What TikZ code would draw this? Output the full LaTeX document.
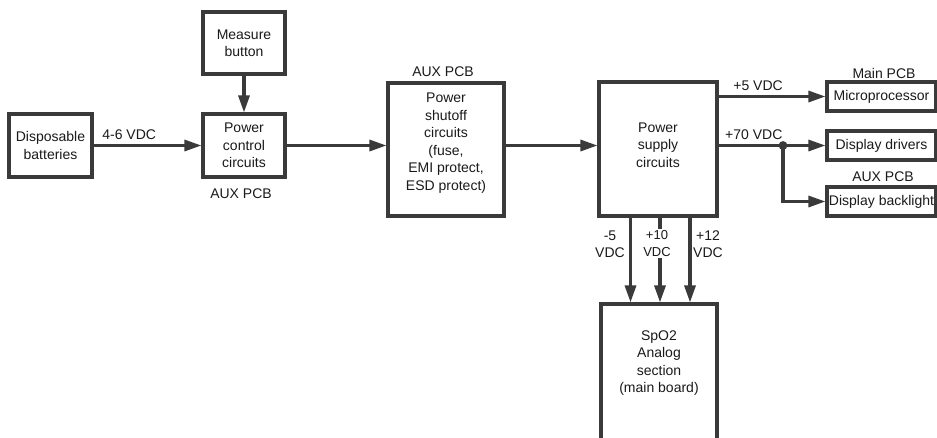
\documentclass[tikz,border=0pt]{standalone}
\usepackage{fontspec}
\setmainfont{Liberation Sans}
\usetikzlibrary{arrows.meta}
\definecolor{linec}{HTML}{3A3A3A}
\definecolor{txtc}{HTML}{1A1A1A}
\tikzset{
  box/.style={draw=linec, line width=3.1pt, fill=white, align=center, inner sep=0pt, text=txtc,
    font=\fontsize{14}{17.5}\selectfont},
  lbl/.style={text=txtc, align=center, inner sep=0pt, font=\fontsize{14}{17.5}\selectfont},
  slbl/.style={text=txtc, align=center, inner sep=0pt, font=\fontsize{13}{16.5}\selectfont},
  conn/.style={draw=linec, line width=3.1pt, -{Triangle[length=17pt,width=11pt]}},
  wire/.style={draw=linec, line width=3.1pt}
}
\begin{document}
\begin{tikzpicture}[x=1pt,y=-1pt]
\useasboundingbox (0,0) rectangle (937,437);
\fill[white] (0,0) rectangle (937,437);
\clip (0,0) rectangle (937,437);
% boxes
\node[box, minimum width=83, minimum height=63] (bat) at (50.5,145.5) {Disposable\\batteries};
\node[box, minimum width=82, minimum height=62] (meas) at (244,43) {Measure\\button};
\node[box, minimum width=82, minimum height=63] (pcc) at (244,145.5) {Power\\control\\circuits};
\node[box, minimum width=116, minimum height=133] (shut) at (446,149.5) {};
\node[lbl] (shutt) at (446,143) {Power\\shutoff\\circuits\\(fuse,\\EMI protect,\\ESD protect)};
\node[box, minimum width=118, minimum height=134] (psu) at (658,149) {};
\node[lbl] (psut) at (658,145) {Power\\supply\\circuits};
\node[box, minimum width=109, minimum height=29] (micro) at (881.5,96.5) {Microprocessor};
\node[box, minimum width=109, minimum height=29] (drv) at (881.5,145.5) {Display drivers};
\node[box, minimum width=109, minimum height=29] (blt) at (881.5,201.5) {Display backlight};
\node[box, minimum width=116, minimum height=141] (spo2) at (659,374.5) {};
\node[lbl, below] (spot) at ([yshift=-28]spo2.north) {SpO2\\Analog\\section\\(main board)};
% PCB labels
\node[lbl] (auxa) at (241,194) {AUX PCB};
\node[lbl] (auxb) at (443,72) {AUX PCB};
\node[lbl] (mainp) at (884,73) {Main PCB};
\node[lbl] (auxc) at (883,177) {AUX PCB};
% connectors
\draw[conn] (bat.east) -- (pcc.west) node[lbl, pos=0.33, above=4pt] {4-6 VDC};
\draw[conn] (meas.south) -- (pcc.north);
\draw[conn] (pcc.east) -- (shut.west |- pcc.east);
\draw[conn] (shut.east |- pcc.east) -- (psu.west |- pcc.east);
\draw[conn] (psu.east |- micro.west) -- (micro.west) node[lbl, pos=0.37, above=4pt] {+5 VDC};
\draw[conn] (psu.east |- drv.west) -- (drv.west) node[lbl, pos=0.33, above=4pt] {+70 VDC};
\coordinate (jn) at (783,145.5);
\fill[linec] (jn) circle (4.4pt);
\draw[wire] (jn) -- (jn |- blt.west);
\draw[conn] ([xshift=-1.55pt]jn |- blt.west) -- (blt.west);
% bottom supplies
\coordinate (s1) at (630.5,0);
\coordinate (s2) at (660,0);
\coordinate (s3) at (690,0);
\draw[conn] (s1 |- psu.south) -- (s1 |- spo2.north);
\draw[conn] (s2 |- psu.south) -- (s2 |- spo2.north);
\draw[conn] (s3 |- psu.south) -- (s3 |- spo2.north);
\node[lbl] (l1) at (610,244) {-5\\VDC};
\node[slbl, fill=white, inner xsep=1pt, inner ysep=2pt] (l2) at (657,243.5) {+10\\VDC};
\node[lbl] (l3) at (708,244) {+12\\VDC};
\end{tikzpicture}
\end{document}
